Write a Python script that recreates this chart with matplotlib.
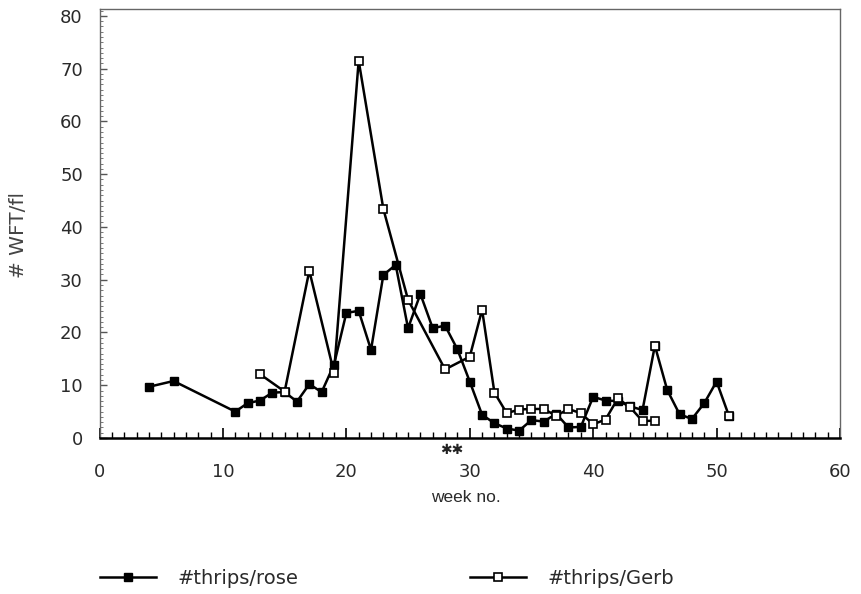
import numpy as np
import matplotlib
matplotlib.use("Agg")
import matplotlib.pyplot as plt
from matplotlib.ticker import MultipleLocator
from matplotlib.lines import Line2D

# Thrips counts per flower, by week of the year
rose_weeks = [4, 6, 11, 12, 13, 14, 15, 16, 17, 18, 19, 20, 21, 22, 23, 24, 25, 26,
              27, 28, 29, 30, 31, 32, 33, 34, 35, 36, 37, 38, 39, 40, 41, 42, 43,
              44, 45, 46, 47, 48, 49, 50, 51]
rose_counts = [9.7, 10.8, 5.0, 6.6, 7.1, 8.6, 8.7, 6.9, 10.2, 8.7, 13.9, 23.7, 24.1,
               16.7, 30.9, 32.8, 20.8, 27.3, 20.8, 21.3, 16.8, 10.7, 4.4, 2.8, 1.8,
               1.4, 3.4, 3.1, 4.6, 2.0, 2.1, 7.8, 7.1, 7.0, 6.0, 5.3, 17.5, 9.1, 4.5,
               3.6, 6.6, 10.7, 4.2]
rose_hollow_weeks = [45, 51]

gerb_weeks = [13, 15, 17, 19, 21, 23, 25, 28, 30, 31, 32, 33, 34, 35, 36, 37, 38,
              39, 40, 41, 42, 43, 44, 45]
gerb_counts = [12.1, 8.8, 31.7, 12.4, 71.5, 43.4, 26.2, 13.0, 15.4, 24.3, 8.6, 4.7,
               5.4, 5.5, 5.5, 4.2, 5.5, 4.7, 2.6, 3.5, 7.5, 5.8, 3.2, 3.3]

series_labels = ["#thrips/rose", "#thrips/Gerb"]
x_label = "week no."
y_label = "# WFT/fl"

TXT = "#2a2a2a"
plt.rcParams["font.family"] = ["DejaVu Sans"]

fig = plt.figure(figsize=(8.61, 5.94), dpi=100)
ax = fig.add_axes([99.5 / 861, 1 - 438 / 594, (840 - 99.5) / 861, (438 - 9) / 594])

ax.plot(rose_weeks, rose_counts, color="black", lw=1.8, marker="s", ms=5.5,
        mfc="black", mec="black", zorder=3)
rw = np.array(rose_weeks)
rc = np.array(rose_counts)
mask = np.isin(rw, rose_hollow_weeks)
ax.plot(rw[mask], rc[mask], ls="none", marker="s", ms=6, mfc="white",
        mec="black", mew=1.2, zorder=4)

ax.plot(gerb_weeks, gerb_counts, color="black", lw=1.8, marker="s", ms=6,
        mfc="white", mec="black", mew=1.2, zorder=3)

ax.set_xlim(0, 60)
ax.set_ylim(0, 81.3)
ax.xaxis.set_major_locator(MultipleLocator(10))
ax.xaxis.set_minor_locator(MultipleLocator(1))
ax.yaxis.set_minor_locator(MultipleLocator(1))
ax.set_yticks(np.arange(0, 81, 10))
ax.tick_params(axis="x", which="major", direction="in", length=7, width=1.2,
               colors="black", labelcolor=TXT, labelsize=13, pad=18)
ax.tick_params(axis="x", which="minor", direction="in", length=4, width=1.0,
               colors="black")
ax.tick_params(axis="y", which="major", direction="in", length=5, width=1.0,
               colors="#555555", labelcolor=TXT, labelsize=13, pad=12)
ax.tick_params(axis="y", which="minor", direction="in", length=2.5, width=0.7,
               colors="#777777")

for side in ("top", "right", "left"):
    ax.spines[side].set_color("#666666")
    ax.spines[side].set_linewidth(1.0)
ax.spines["bottom"].set_color("black")
ax.spines["bottom"].set_linewidth(1.8)

# significance mark under the axis
ax.annotate("\u2731\u2731", xy=(28.5, 0), xytext=(0, -8.5), textcoords="offset points",
            ha="center", va="center", fontsize=10, color="#222222",
            annotation_clip=False)

fig.text(466 / 861, 1 - 497 / 594, x_label, ha="center", va="center",
         fontsize=12.5, color=TXT, family=["Liberation Sans", "DejaVu Sans"])
fig.text(18 / 861, 1 - 235 / 594, y_label, ha="center", va="center",
         rotation=90, fontsize=14.5, color="#444444")

handles = [
    Line2D([], [], color="black", lw=1.8, marker="s", ms=5.5, mfc="black", mec="black"),
    Line2D([], [], color="black", lw=1.8, marker="s", ms=6, mfc="white", mec="black",
           mew=1.2),
]
fig.legend(handles, series_labels, ncol=2, loc="center left",
           bbox_to_anchor=(100 / 861, 1 - 578 / 594), frameon=False,
           fontsize=14, handlelength=2.9, handletextpad=1.1,
           columnspacing=8.8, borderpad=0, borderaxespad=0, labelcolor=TXT)

fig.savefig("out.png", dpi=100, facecolor="white")
